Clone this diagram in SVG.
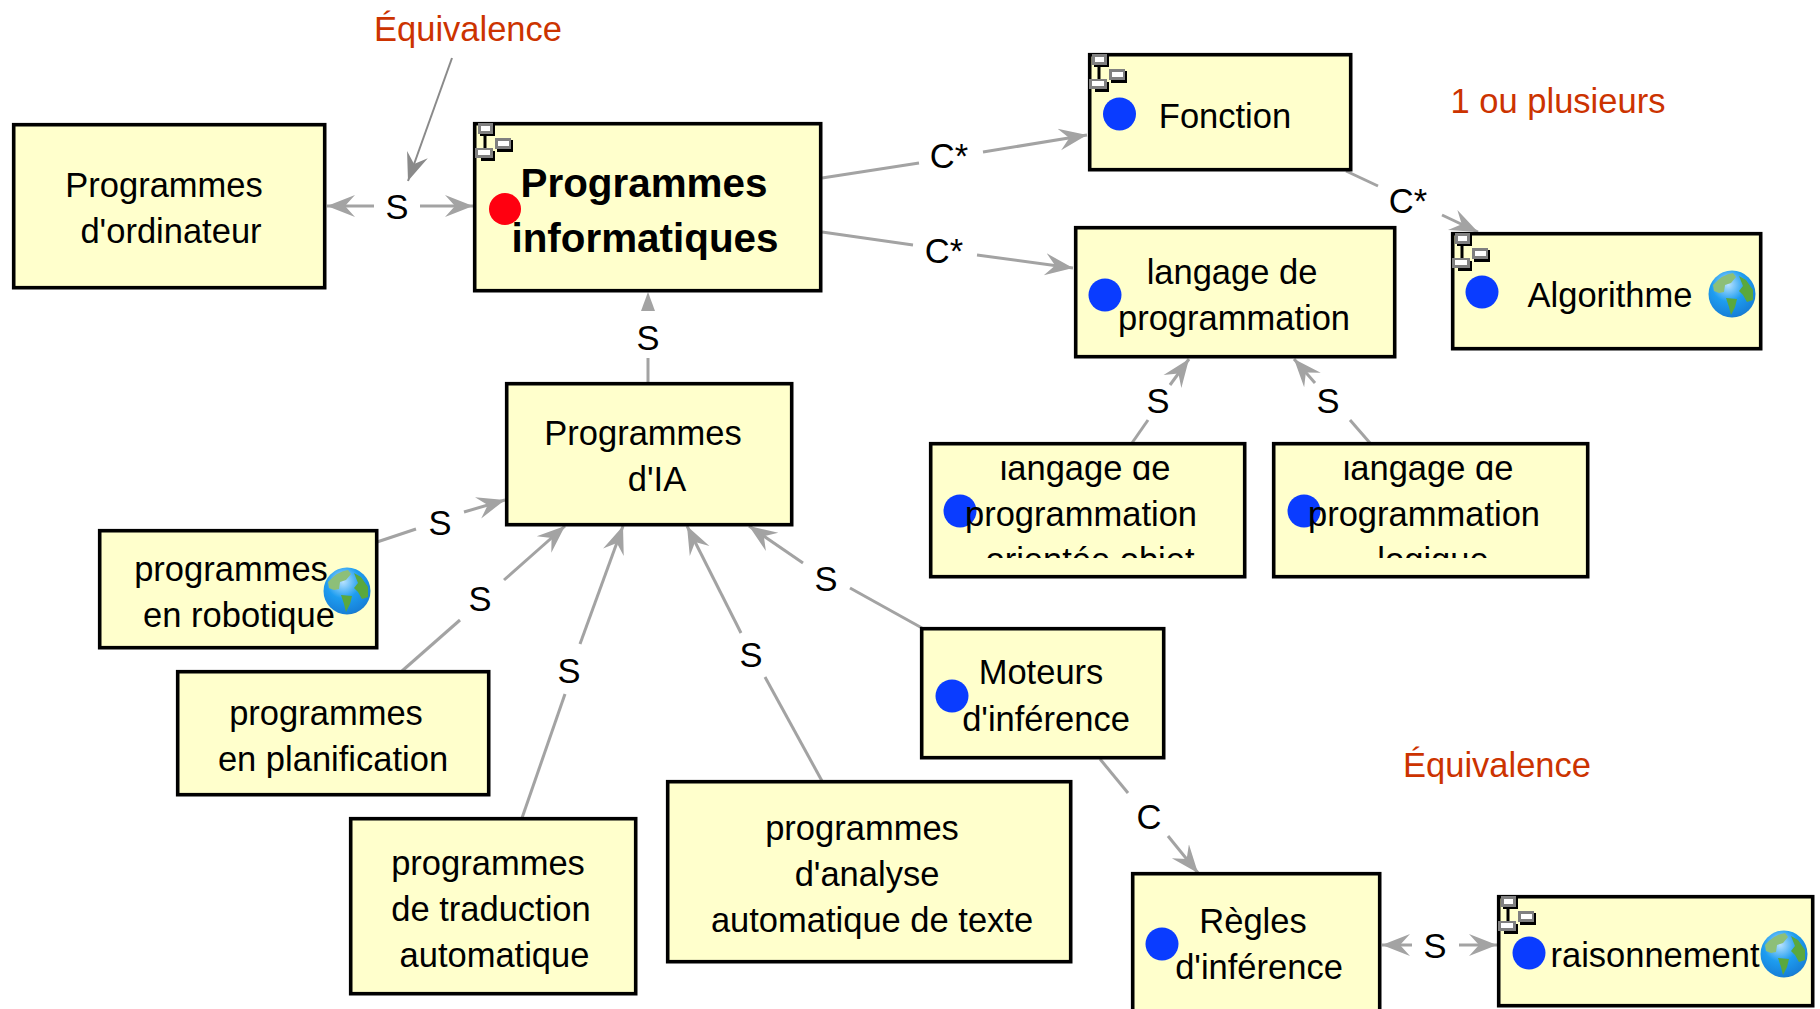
<svg xmlns="http://www.w3.org/2000/svg" width="1820" height="1009" viewBox="0 0 1820 1009">
<style>
text{font-family:"Liberation Sans",Arial,sans-serif;font-size:34.5px;fill:#000;text-anchor:middle;transform:translateY(.6px)}
.n{fill:#ffffcc;stroke:#000;stroke-width:3.6;transform:translate(-.3px,-.3px)}
.b{fill:#0a3cff}
.r{fill:#ff0010}
.c{fill:none;stroke:#a3a3a3;stroke-width:3}
.a{fill:none;stroke:#a3a3a3;stroke-width:3;marker-end:url(#arr)}
.d{fill:none;stroke:#8a8a8a;stroke-width:2;marker-end:url(#arrd)}
.red{fill:#cc3300}
.bold{font-weight:bold;font-size:40.4px}
</style>
<defs>
<marker id="arr" markerUnits="userSpaceOnUse" markerWidth="34" markerHeight="30" refX="28" refY="15" orient="auto">
<path d="M0 4 L28 15 L0 26 L10 15 Z" fill="#a3a3a3"/>
</marker>
<marker id="arrd" markerUnits="userSpaceOnUse" markerWidth="34" markerHeight="30" refX="28" refY="15" orient="auto">
<path d="M0 4 L28 15 L0 26 L10 15 Z" fill="#8a8a8a"/>
</marker>
<radialGradient id="sea" cx="0.42" cy="0.3" r="0.8">
<stop offset="0" stop-color="#b8e2ff"/><stop offset="0.45" stop-color="#1e9df0"/><stop offset="0.85" stop-color="#1780d8"/><stop offset="1" stop-color="#2a5f9e"/>
</radialGradient>
<filter id="soft" x="-10%" y="-10%" width="120%" height="120%"><feGaussianBlur stdDeviation="0.7"/></filter>
<g id="globe">
<circle r="23.500" fill="url(#sea)"/>
<g filter="url(#soft)">
<path d="M-19 -9 Q-9 -20 1 -21 L4 -17 L-1 -11 L-7 -9 L-8 -2 L-13 -1 L-18 -3 Z" fill="#8dbf78"/>
<path d="M7 -18 L14 -14 L21 -4 L21 6 L15 8 L11 1 L7 -3 L11 -8 Z" fill="#5aa83c"/>
<path d="M-6 4 L5 5 L3 13 L-1 21 L-3 13 Z" fill="#5aa83c"/>
</g>
</g>
<g id="icon">
<path d="M10 12V26" fill="none" stroke="#000" stroke-width="3"/>
<path d="M5 2H20V13H5Z" fill="#000"/><rect x="3" y="0" width="15" height="11" fill="#808080"/><rect x="6" y="3" width="9" height="5" fill="#fff"/>
<path d="M22 17H38V29H22Z" fill="#000"/><rect x="20" y="15" width="16" height="11" fill="#808080"/><rect x="23" y="18" width="11" height="5" fill="#fff"/>
<path d="M6 28H20V38H6Z" fill="#000"/><rect x="0" y="25" width="18" height="10" fill="#808080"/><rect x="3" y="27" width="12" height="5" fill="#fff"/>
</g>
<clipPath id="clipA"><rect x="932" y="461" width="312" height="97"/></clipPath>
<clipPath id="clipB"><rect x="1275" y="461" width="312" height="97"/></clipPath>
</defs>
<rect width="1820" height="1009" fill="#fff"/>

<g id="connectors">
<path class="a" d="M374 206H327"/><path class="a" d="M420 206H473"/>
<path class="d" d="M452 58L408 181"/>
<path class="c" d="M648 383V358"/><path d="M648 292L641 311H655Z" fill="#a3a3a3"/>
<path class="c" d="M822 178L919 163"/><path class="a" d="M983 152L1087 135"/>
<path class="c" d="M822 232L913 245"/><path class="a" d="M977 255L1073 268"/>
<path class="c" d="M1346 171L1378 186"/><path class="a" d="M1442 215L1478 232"/>
<path class="c" d="M1132 443L1148 420"/><path class="a" d="M1170 385L1189 359"/>
<path class="c" d="M1370 443L1350 420"/><path class="a" d="M1315 383L1294 359"/>
<path class="c" d="M377 542L416 529"/><path class="a" d="M464 512L505 500"/>
<path class="c" d="M402 671L460 620"/><path class="a" d="M504 580L565 526"/>
<path class="c" d="M522 818L565 694"/><path class="a" d="M580 644L623 526"/>
<path class="c" d="M822 781L765 677"/><path class="a" d="M741 633L687 526"/>
<path class="c" d="M922 628L850 588"/><path class="a" d="M803 563L749 526"/>
<path class="c" d="M1100 759L1128 793"/><path class="a" d="M1168 836L1198 873"/>
<path class="a" d="M1412 945H1382"/><path class="a" d="M1459 945H1497"/>
<g id="connector-labels">
<text x="397" y="218">S</text><text x="648" y="349">S</text>
<text x="949" y="167">C*</text><text x="944" y="262">C*</text><text x="1408" y="212">C*</text>
<text x="1158" y="412">S</text><text x="1328" y="412">S</text>
<text x="440" y="534">S</text><text x="480" y="610">S</text><text x="569" y="682">S</text>
<text x="751" y="666">S</text><text x="826" y="590">S</text>
<text x="1149" y="828">C</text><text x="1435" y="957">S</text>
</g>
</g>

<g id="annotations">
<text class="red" x="468" y="40">Équivalence</text>
<text class="red" x="1558" y="112">1 ou plusieurs</text>
<text class="red" x="1497" y="776">Équivalence</text>
</g>

<g id="n-ordinateur"><rect class="n" x="14" y="125" width="311" height="163"/>
<text x="164" y="196">Programmes</text><text x="171" y="242">d'ordinateur</text></g>

<g id="n-informatiques"><rect class="n" x="475" y="124" width="346" height="167"/>
<use href="#icon" x="475" y="123"/><circle class="r" cx="505" cy="209" r="16"/>
<text class="bold" x="644" y="196">Programmes</text><text class="bold" x="645" y="251">informatiques</text></g>

<g id="n-fonction"><rect class="n" x="1090" y="55" width="261" height="115"/>
<use href="#icon" x="1089" y="54"/><circle class="b" cx="1119.500" cy="114" r="16.500"/>
<text x="1225" y="127">Fonction</text></g>

<g id="n-langage"><rect class="n" x="1076" y="228" width="319" height="129"/>
<circle class="b" cx="1105" cy="295" r="16.500"/>
<text x="1232" y="283">langage de</text><text x="1234" y="329">programmation</text></g>

<g id="n-algorithme"><rect class="n" x="1453" y="234" width="308" height="115"/>
<use href="#icon" x="1452" y="233"/><circle class="b" cx="1482" cy="292" r="16.500"/>
<text x="1610" y="306">Algorithme</text><use href="#globe" x="1732" y="294"/></g>

<g id="n-objet"><rect class="n" x="931" y="444" width="314" height="133"/>
<circle class="b" cx="960" cy="511" r="16.500"/>
<g clip-path="url(#clipA)"><text x="1085" y="479">langage de</text><text x="1081" y="525">programmation</text><text x="1090" y="571">orientée objet</text></g></g>

<g id="n-logique"><rect class="n" x="1274" y="444" width="314" height="133"/>
<circle class="b" cx="1304" cy="511" r="16.500"/>
<g clip-path="url(#clipB)"><text x="1428" y="479">langage de</text><text x="1424" y="525">programmation</text><text x="1433" y="571">logique</text></g></g>

<g id="n-ia"><rect class="n" x="507" y="384" width="285" height="141"/>
<text x="643" y="444">Programmes</text><text x="657" y="490">d'IA</text></g>

<g id="n-robotique"><rect class="n" x="100" y="531" width="277" height="117"/>
<text x="231" y="580">programmes</text><text x="239" y="626">en robotique</text><use href="#globe" x="347" y="591"/></g>

<g id="n-planification"><rect class="n" x="178" y="672" width="311" height="123"/>
<text x="326" y="724">programmes</text><text x="333" y="770">en planification</text></g>

<g id="n-traduction"><rect class="n" x="351" y="819" width="285" height="175"/>
<text x="488" y="874">programmes</text><text x="491" y="920">de traduction</text><text x="494.500" y="966">automatique</text></g>

<g id="n-analyse"><rect class="n" x="668" y="782" width="403" height="180"/>
<text x="862" y="839">programmes</text><text x="867" y="885">d'analyse</text><text x="872" y="931">automatique de texte</text></g>

<g id="n-moteurs"><rect class="n" x="922" y="629" width="242" height="129"/>
<circle class="b" cx="952" cy="696" r="16.500"/>
<text x="1041" y="683">Moteurs</text><text x="1046" y="730">d'inférence</text></g>

<g id="n-regles"><rect class="n" x="1133" y="874" width="247" height="150"/>
<circle class="b" cx="1162" cy="944" r="16.500"/>
<text x="1253" y="932">Règles</text><text x="1259" y="978">d'inférence</text></g>

<g id="n-raisonnement"><rect class="n" x="1499" y="897" width="314" height="109"/>
<use href="#icon" x="1498" y="896"/><circle class="b" cx="1529" cy="953" r="16.500"/>
<text x="1655" y="966">raisonnement</text><use href="#globe" x="1784" y="954"/></g>
</svg>
